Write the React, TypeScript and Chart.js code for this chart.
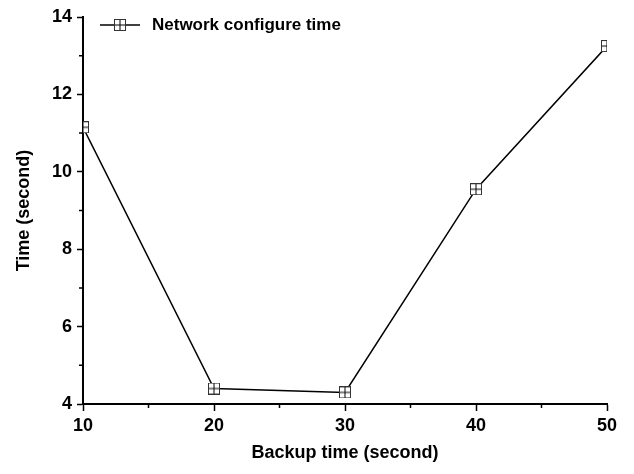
import { useEffect, useRef } from 'react';
import { Chart, registerables } from 'chart.js';

Chart.register(...registerables);

const backupTimes = [10, 20, 30, 40, 50];
const configureTimes = [11.15, 4.4, 4.3, 9.55, 13.25];
const xMinorTicks = [15, 25, 35, 45];
const yMinorTicks = [5, 7, 9, 11, 13];
const seriesLabel = 'Network configure time';
const xTitle = 'Backup time (second)';
const yTitle = 'Time (second)';

const FONT = '"Liberation Sans", Arial, sans-serif';
const M = 12;

function drawMarker(g: CanvasRenderingContext2D, x0: number, y0: number) {
  g.save();
  g.fillStyle = '#fff';
  g.fillRect(x0, y0, M, M);
  g.strokeStyle = '#333';
  g.lineWidth = 1;
  g.strokeRect(x0 + 0.5, y0 + 0.5, M - 1, M - 1);
  g.strokeStyle = '#000';
  g.beginPath();
  g.moveTo(x0 + M / 2, y0 + 1);
  g.lineTo(x0 + M / 2, y0 + M - 1);
  g.moveTo(x0 + 1, y0 + M / 2);
  g.lineTo(x0 + M - 1, y0 + M / 2);
  g.stroke();
  g.restore();
}

function makeMarker() {
  const c = document.createElement('canvas');
  c.width = M;
  c.height = M;
  const g = c.getContext('2d')!;
  drawMarker(g, 0, 0);
  return c;
}

const minorTicks = {
  id: 'minorTicks',
  afterDraw(chart: any) {
    const { ctx } = chart;
    const xs = chart.scales.x;
    const ys = chart.scales.y;
    ctx.save();
    ctx.strokeStyle = '#000';
    ctx.lineWidth = 1.5;
    ctx.beginPath();
    xMinorTicks.forEach((v) => {
      const px = xs.getPixelForValue(v);
      ctx.moveTo(px, xs.top);
      ctx.lineTo(px, xs.top + 4);
    });
    yMinorTicks.forEach((v) => {
      const py = ys.getPixelForValue(v);
      ctx.moveTo(ys.right, py);
      ctx.lineTo(ys.right - 4, py);
    });
    ctx.stroke();
    ctx.restore();
  },
};

const insideLegend = {
  id: 'insideLegend',
  afterDraw(chart: any) {
    const { ctx, chartArea } = chart;
    const ds = chart.data.datasets[0];
    const y = chartArea.top + 8;
    const x0 = chartArea.left + 17;
    ctx.save();
    ctx.strokeStyle = '#000';
    ctx.lineWidth = 1.5;
    ctx.beginPath();
    ctx.moveTo(x0, y);
    ctx.lineTo(x0 + 40, y);
    ctx.stroke();
    drawMarker(ctx, x0 + 20 - M / 2, y - M / 2);
    ctx.fillStyle = '#000';
    ctx.font = `bold 17px ${FONT}`;
    ctx.textBaseline = 'middle';
    ctx.textAlign = 'left';
    ctx.fillText(ds.label, x0 + 52, y);
    ctx.restore();
  },
};

export default function App() {
  const ref = useRef<HTMLCanvasElement>(null);

  useEffect(() => {
    const marker = makeMarker();
    const tickFont = { family: FONT, size: 18, weight: 'bold' as const };
    const chart = new Chart(ref.current!, {
      type: 'line',
      data: {
        datasets: [
          {
            label: seriesLabel,
            data: backupTimes.map((x, i) => ({ x, y: configureTimes[i] })),
            borderColor: '#000',
            borderWidth: 1.5,
            tension: 0,
            pointStyle: marker as any,
            pointRadius: 6,
            clip: 0,
          },
        ],
      },
      options: {
        responsive: false,
        animation: false,
        devicePixelRatio: 1,
        layout: { padding: { top: 17, right: 27, left: 0, bottom: 0 } },
        plugins: {
          tooltip: { enabled: false },
          legend: { display: false },
        },
        scales: {
          x: {
            type: 'linear',
            min: 10,
            max: 50,
            afterFit: (s: any) => {
              s.height = 70;
            },
            border: { display: true, color: '#000', width: 2 },
            grid: {
              drawOnChartArea: false,
              drawTicks: true,
              tickLength: 7,
              tickWidth: 1.5,
              tickColor: '#000',
            },
            ticks: {
              stepSize: 10,
              color: '#000',
              font: tickFont,
              padding: 4,
              maxRotation: 0,
            },
            title: {
              display: true,
              text: xTitle,
              color: '#000',
              font: { family: FONT, size: 18, weight: 'bold' },
              padding: { top: 0, bottom: 10 },
            },
          },
          y: {
            type: 'linear',
            min: 4,
            max: 14,
            afterFit: (s: any) => {
              s.width = 83;
            },
            border: { display: true, color: '#000', width: 2 },
            grid: {
              drawOnChartArea: false,
              drawTicks: true,
              tickLength: 6,
              tickWidth: 1.5,
              tickColor: '#000',
            },
            ticks: {
              stepSize: 2,
              color: '#000',
              font: tickFont,
              padding: 5,
            },
            title: {
              display: true,
              text: yTitle,
              color: '#000',
              font: { family: FONT, size: 18, weight: 'bold' },
              padding: { top: 13, bottom: 0 },
            },
          },
        },
      },
      plugins: [minorTicks, insideLegend],
    });
    return () => chart.destroy();
  }, []);

  return (
    <div style={{ position: 'absolute', left: 0, top: 0, width: 634, height: 474, background: '#fff' }}>
      <canvas ref={ref} width={634} height={474} style={{ width: 634, height: 474, display: 'block' }} />
    </div>
  );
}
